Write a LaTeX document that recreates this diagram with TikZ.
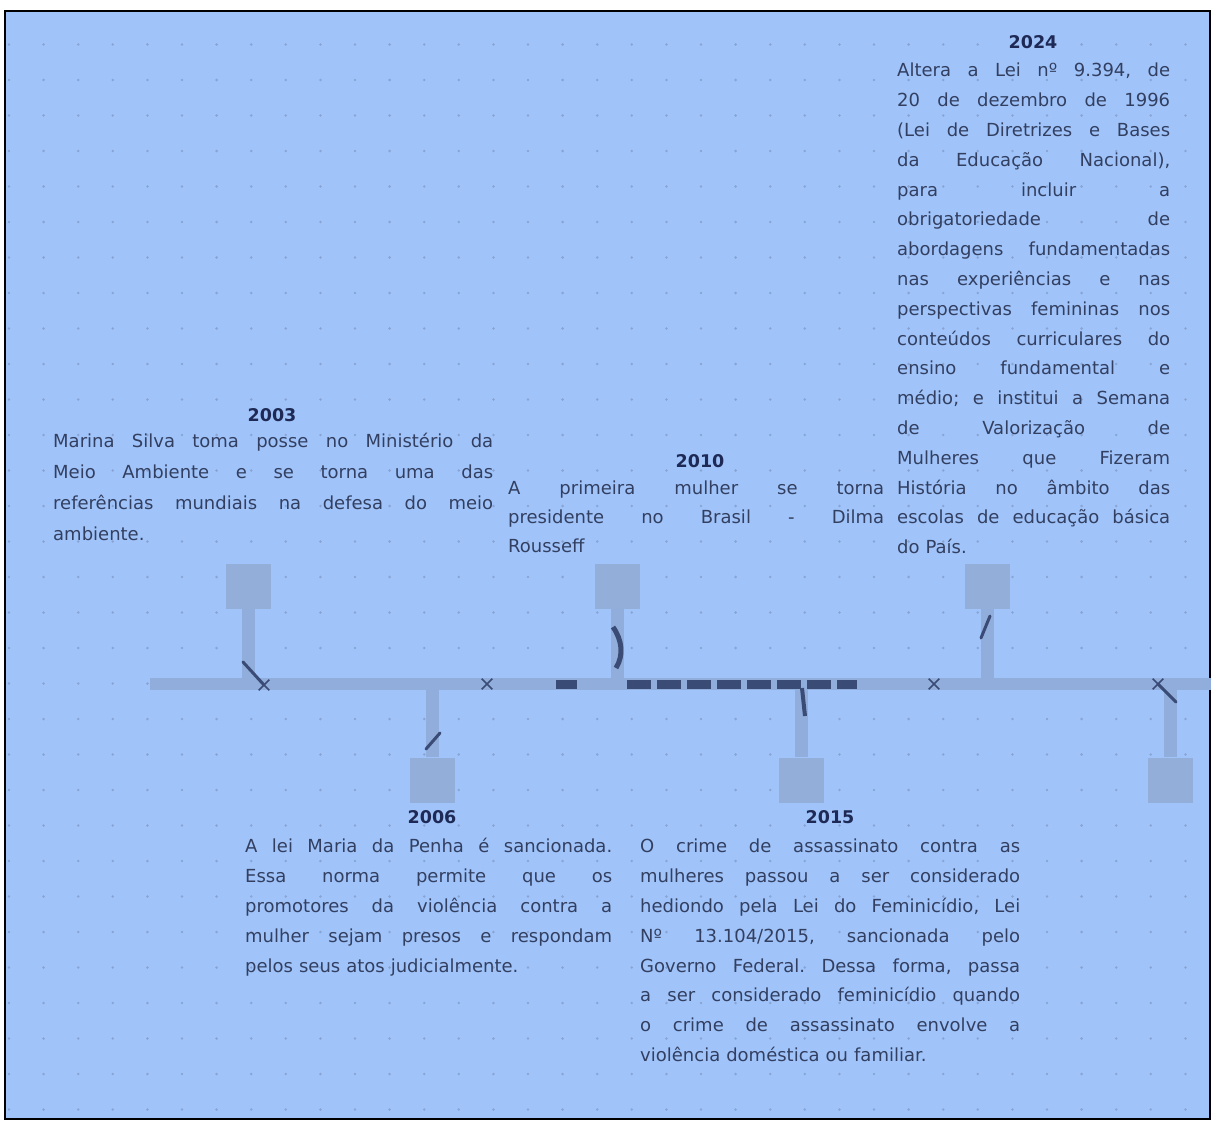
\documentclass[tikz,border=0pt]{standalone}
\usepackage{fontspec}
\setmainfont{DejaVu Sans}
\usetikzlibrary{shapes.misc}
\definecolor{bgblue}{HTML}{A0C4FA}
\definecolor{dotcol}{HTML}{88A4D4}
\definecolor{barcol}{HTML}{90ADDB}
\definecolor{sqcol}{HTML}{94AEDA}
\definecolor{inkcol}{HTML}{333F60}
\definecolor{yearcol}{HTML}{1E2A55}
\definecolor{darkcol}{HTML}{3A4B75}
\newcommand{\jl}[1]{\leavevmode\hbox to \jw{\frenchspacing\spaceskip=0.33em plus 1fil\relax #1}\\}
\begin{document}
\begin{tikzpicture}[x=1pt,y=-1pt,
    evtext/.style={anchor=north west, inner sep=0pt, text width=#1, align=left,
      text=inkcol, font=\fontsize{18}{29.8}\selectfont\frenchspacing,
      execute at begin node={\def\jw{#1}}},
    yeartext/.style={inner sep=0pt, text=yearcol, font=\fontsize{17.5}{20}\selectfont\bfseries},
    sqbox/.style={rectangle, inner sep=0, minimum size=45pt, fill=sqcol},
    stemline/.style={barcol, line width=13pt},
    xmark/.style={cross out, draw=darkcol, line width=1.6pt, minimum size=9pt, inner sep=0},
    scratch/.style={darkcol, line width=3pt, line cap=round}]
  \useasboundingbox (0,0) rectangle (1211,1121);
  \fill[white] (0,0) rectangle (1211,1121);
  \fill[bgblue] (5,11) rectangle (1210,1119);
  % dot grid
  \foreach \i in {0,...,34}
    \foreach \j in {1,...,31}
      \fill[dotcol] (9+34.6*\i, 9+35.5*\j) circle (1.4pt);
  \draw[black, line width=2.5pt] (5,11) rectangle (1210,1119);

  % timeline
  \node (bar) at (680.5,684) [rectangle, inner sep=0, minimum width=1061pt, minimum height=12pt, fill=barcol] {};
  \node (sq03) at (248,586) [sqbox] {};
  \node (sq06) at (432,780) [sqbox] {};
  \node (sq10) at (617,586) [sqbox] {};
  \node (sq15) at (801,780) [sqbox] {};
  \node (sq24) at (987,586) [sqbox] {};
  \node (sq30) at (1170,780) [sqbox] {};
  \draw[stemline] (sq03.south) -- (sq03.south |- bar.north);
  \draw[stemline] (sq06.north) -- (sq06.north |- bar.south);
  \draw[stemline] (sq10.south) -- (sq10.south |- bar.north);
  \draw[stemline] (sq15.north) -- (sq15.north |- bar.south);
  \draw[stemline] (sq24.south) -- (sq24.south |- bar.north);
  \draw[stemline] (sq30.north) -- (sq30.north |- bar.south);

  % dark marks on the line
  \draw[darkcol, line width=9pt, dash pattern=on 24pt off 6pt] (627,684) -- (857,684);
  \draw[darkcol, line width=9pt] (556,684) -- (577,684);
  \node (xa) at (487,684) [xmark] {};
  \node (xb) at (934,684) [xmark] {};
  \node (xc) at (1158,684) [xmark] {};
  \node (xd) at (264,685) [xmark] {};
  \draw[scratch] (243,662) -- (xd.center);
  \draw[scratch] (440,733) -- (426,749);
  \draw[darkcol, line width=5pt] (613,627) .. controls (622,640) and (624,655) .. (616,668);
  \draw[darkcol, line width=4pt] (802,688) -- (805,716);
  \draw[scratch] (990,616) -- (981,638);
  \draw[scratch] (xc.center) -- (1176,702);

  % events
  \node (y03) at (272,415) [yeartext] {2003};
  \node (t03) at (53,433) [evtext=440pt, font=\fontsize{18}{31}\selectfont] {%
    \jl{Marina Silva toma posse no Ministério da}
    \jl{Meio Ambiente e se torna uma das}
    \jl{referências mundiais na defesa do meio}
    ambiente.};

  \node (y10) at (700,461) [yeartext] {2010};
  \node (t10) at (508,481) [evtext=376pt, font=\fontsize{18}{29}\selectfont] {%
    \jl{A primeira mulher se torna}
    \jl{presidente no Brasil - Dilma}
    Rousseff};

  \node (y06) at (432,817) [yeartext] {2006};
  \node (t06) at (245,838) [evtext=367pt, font=\fontsize{18}{30}\selectfont] {%
    \jl{A lei Maria da Penha é sancionada.}
    \jl{Essa norma permite que os}
    \jl{promotores da violência contra a}
    \jl{mulher sejam presos e respondam}
    pelos seus atos judicialmente.};

  \node (y15) at (830,817) [yeartext] {2015};
  \node (t15) at (640,839) [evtext=380pt] {%
    \jl{O crime de assassinato contra as}
    \jl{mulheres passou a ser considerado}
    \jl{hediondo pela Lei do Feminicídio, Lei}
    \jl{Nº 13.104/2015, sancionada pelo}
    \jl{Governo Federal. Dessa forma, passa}
    \jl{a ser considerado feminicídio quando}
    \jl{o crime de assassinato envolve a}
    violência doméstica ou familiar.};

  \node (y24) at (1033,42) [yeartext] {2024};
  \node (t24) at (897,63) [evtext=273pt] {%
    \jl{Altera a Lei nº 9.394, de}
    \jl{20 de dezembro de 1996}
    \jl{(Lei de Diretrizes e Bases}
    \jl{da Educação Nacional),}
    \jl{para incluir a}
    \jl{obrigatoriedade de}
    \jl{abordagens fundamentadas}
    \jl{nas experiências e nas}
    \jl{perspectivas femininas nos}
    \jl{conteúdos curriculares do}
    \jl{ensino fundamental e}
    \jl{médio; e institui a Semana}
    \jl{de Valorização de}
    \jl{Mulheres que Fizeram}
    \jl{História no âmbito das}
    \jl{escolas de educação básica}
    do País.};
\end{tikzpicture}
\end{document}
